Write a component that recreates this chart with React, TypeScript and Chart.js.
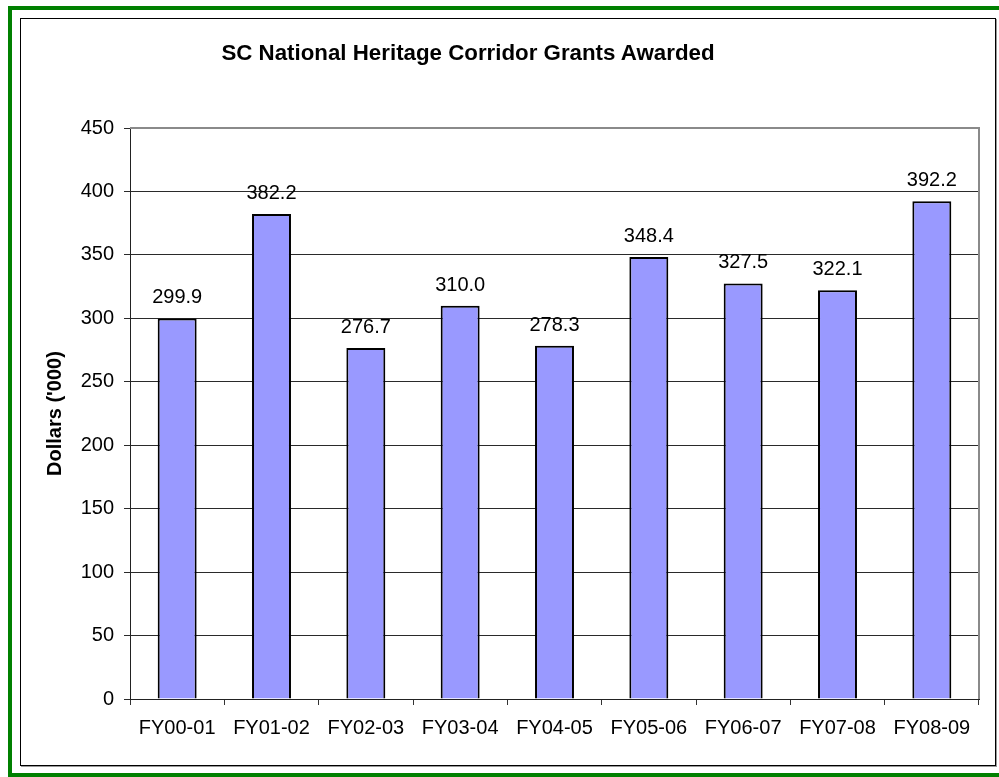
import React, { useEffect, useRef } from "react";
import { Chart, registerables } from "chart.js";

Chart.register(...registerables);

const categories = ["FY00-01", "FY01-02", "FY02-03", "FY03-04", "FY04-05", "FY05-06", "FY06-07", "FY07-08", "FY08-09"];
const grants = [299.9, 382.2, 276.7, 310.0, 278.3, 348.4, 327.5, 322.1, 392.2];
const titleText = "SC National Heritage Corridor Grants Awarded";
const yTitle = "Dollars ('000)";
const yMin = 0;
const yMax = 450;
const yStep = 50;

const FONT = "'Liberation Sans', Arial, Helvetica, sans-serif";

const plotBorder = {
  id: "plotBorder",
  afterDatasetsDraw(chart: any) {
    const { ctx, chartArea } = chart;
    ctx.save();
    ctx.strokeStyle = "#8a8a8a";
    ctx.lineWidth = 2;
    ctx.beginPath();
    ctx.moveTo(chartArea.left, chartArea.top);
    ctx.lineTo(chartArea.right, chartArea.top);
    ctx.lineTo(chartArea.right, chartArea.bottom);
    ctx.stroke();
    ctx.restore();
  },
};

const valueLabels = {
  id: "valueLabels",
  afterDatasetsDraw(chart: any) {
    const { ctx } = chart;
    const meta = chart.getDatasetMeta(0);
    const data = chart.data.datasets[0].data as number[];
    ctx.save();
    ctx.font = `20px ${FONT}`;
    ctx.fillStyle = "#000";
    ctx.textAlign = "center";
    ctx.textBaseline = "alphabetic";
    meta.data.forEach((bar: any, i: number) => {
      ctx.fillText(data[i].toFixed(1), bar.x, bar.y - 15);
    });
    ctx.restore();
  },
};

export default function App() {
  const canvasRef = useRef<HTMLCanvasElement | null>(null);

  useEffect(() => {
    if (!canvasRef.current) return;
    const chart = new Chart(canvasRef.current, {
      type: "bar",
      data: {
        labels: categories,
        datasets: [
          {
            data: grants,
            backgroundColor: "#9999FF",
            borderColor: "#000",
            borderWidth: 2,
            categoryPercentage: 1,
            barPercentage: 0.413,
          },
        ],
      },
      options: {
        animation: false,
        responsive: false,
        maintainAspectRatio: false,
        layout: { padding: { left: 43, top: 128, right: 20, bottom: 0 } },
        plugins: {
          legend: { display: false },
          title: { display: false },
          tooltip: { enabled: false },
        },
        scales: {
          x: {
            offset: true,
            grid: {
              offset: true,
              drawOnChartArea: false,
              drawTicks: true,
              tickLength: 6,
              color: "#333",
              lineWidth: 1,
            },
            border: { color: "#222", width: 1 },
            ticks: {
              color: "#000",
              font: { family: FONT, size: 20 },
              padding: 11,
              maxRotation: 0,
              autoSkip: false,
            },
            afterFit(scale: any) {
              scale.height = 78;
            },
          },
          y: {
            min: yMin,
            max: yMax,
            ticks: {
              stepSize: yStep,
              color: "#000",
              font: { family: FONT, size: 20 },
              padding: 10,
            },
            grid: {
              color: "#2a2a2a",
              lineWidth: 1,
              drawTicks: true,
              tickLength: 6,
            },
            border: { color: "#222", width: 1 },
            title: {
              display: true,
              text: yTitle,
              color: "#000",
              font: { family: FONT, size: 20, weight: "bold" },
              padding: 0,
            },
            afterFit(scale: any) {
              scale.width = 87;
            },
          },
        },
      },
      plugins: [plotBorder, valueLabels],
    });
    return () => chart.destroy();
  }, []);

  return (
    <div
      style={{
        position: "absolute",
        left: 0,
        top: 0,
        width: 999,
        height: 777,
        overflow: "hidden",
        background: "#fff",
      }}
    >
      <div
        style={{
          position: "absolute",
          left: 8,
          top: 6,
          width: 987,
          height: 763,
          borderLeft: "4px solid #008000",
          borderTop: "4px solid #008000",
          borderBottom: "4px solid #008000",
        }}
      />
      <div
        style={{
          position: "absolute",
          left: 20,
          top: 18,
          width: 974,
          height: 746,
          border: "1px solid #000",
          boxShadow: "1px 1px 0 #999",
        }}
      />
      <canvas
        ref={canvasRef}
        width={999}
        height={777}
        style={{ position: "absolute", left: 0, top: 0, width: 999, height: 777 }}
      />
      <div
        style={{
          position: "absolute",
          left: 0,
          top: 40,
          width: 936,
          textAlign: "center",
          fontFamily: FONT,
          fontWeight: "bold",
          fontSize: 22.3,
          lineHeight: "26px",
          color: "#000",
          whiteSpace: "nowrap",
        }}
      >
        {titleText}
      </div>
    </div>
  );
}
